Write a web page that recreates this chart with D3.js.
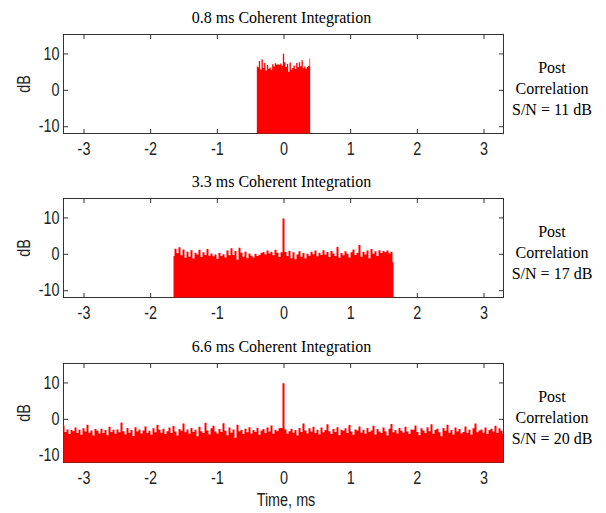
<!DOCTYPE html>
<html>
<head>
<meta charset="utf-8">
<script src="https://cdn.jsdelivr.net/npm/d3@7"></script>
<style>
body { margin: 0; background: #fff; }
.sans { font-family: "Liberation Sans", Arial, sans-serif; font-size: 18px; fill: #222; }
.serif { font-family: "Liberation Serif", "Times New Roman", serif; font-size: 16px; fill: #000; }
</style>
</head>
<body>
<svg id="chart" width="606" height="513"></svg>
<script>
// chart text
const titles = ["0.8 ms Coherent Integration", "3.3 ms Coherent Integration", "6.6 ms Coherent Integration"];
const snLabels = ["S/N = 11 dB", "S/N = 17 dB", "S/N = 20 dB"];
const xTicks = [-3, -2, -1, 0, 1, 2, 3];
const yTicks = [-10, 0, 10];
const xDomain = [-3.3, 3.3];
const yDomain = [-12, 15.2];

// sample grids (ms): first sample time and spacing
const start1 = -0.40, step1 = 0.02;
const start2 = -1.65, step2 = 0.03;
const start3 = -3.30, step3 = 0.03;

// dB values
const values1 = [6.6, 6.2, 7.9, 5.6, 8.3, 6.0, 7.4, 5.3, 6.8, 5.8,
	6.1, 5.4, 7.0, 6.4, 7.3, 6.9, 7.0, 6.8, 7.2, 6.6,
	9.9, 7.6, 6.3, 7.1, 5.0, 7.5, 5.5, 6.0, 6.7, 5.7,
	7.4, 6.2, 7.6, 6.5, 8.1, 5.9, 6.4, 5.8, 6.3, 6.6, 8.6];

const values2 = [-0.6, 1.4, 0.2, 1.8, -0.4, 1.2, -1.1, 0.6, -0.8, 1.0,
	-1.3, 0.3, -0.2, 1.1, -0.9, 0.4, -0.3, 1.3, -0.5, 0.1,
	-0.7, -0.2, -1.4, 0.2, -0.6, -0.1, -1.0, 0.9, -0.4, 1.5,
	-0.3, 0.8, -1.6, 1.7, 0.3, -0.8, 0.6, -1.2, 0.1, -0.5,
	-1.0, 0.0, -0.6, -0.3, 0.2, 0.5, -0.2, 0.9, 0.1, 0.6,
	-0.4, 1.1, 0.3, -0.9, 0.4, 9.7, 0.5, -0.6, 0.8, -1.2,
	0.4, -1.5, -0.2, 0.7, -0.8, 0.2, -1.3, 0.0, -0.5, 0.6,
	-0.1, 0.9, -0.7, 0.3, -0.3, 1.0, -0.2, 0.5, -0.9, 0.8,
	0.1, -0.6, 1.9, -1.1, 0.2, -0.4, 0.7, 0.0, -1.0, 0.4,
	1.2, -0.3, 0.3, 2.4, -0.8, 0.6, -0.2, 0.9, -1.2, 1.3,
	0.0, 0.7, -0.6, 1.0, 0.2, 0.8, 0.4, 0.9, 0.1, 0.6, -2.3];

const values3 = [-1.8, -3.6, -2.9, -4.2, -3.1, -3.4, -2.4, -3.9, -3.0, -4.4,
	-2.6, -3.5, -1.6, -3.8, -3.2, -4.6, -2.8, -3.3, -4.0, -2.7,
	-3.9, -3.1, -4.5, -2.2, -3.6, -3.0, -4.1, -2.9, -3.7, -1.0,
	-3.4, -4.3, -2.5, -3.8, -3.1, -4.7, -2.3, -3.5, -2.9, -4.0,
	-3.2, -2.1, -3.9, -3.3, -4.4, -2.6, -3.7, -1.7, -3.0, -3.8,
	-2.7, -4.2, -3.4, -2.4, -3.9, -2.0, -3.5, -4.6, -2.8, -3.3,
	-1.3, -3.7, -2.9, -4.1, -2.5, -3.6, -3.0, -4.8, -2.2, -3.4,
	-3.9, -1.1, -3.2, -4.3, -2.6, -1.9, -3.5, -4.0, -2.8, -3.6,
	-1.2, -3.3, -4.5, -2.4, -3.8, -2.9, -5.2, -1.6, -3.4, -3.0,
	-4.2, -2.7, -3.7, -2.3, -4.0, -3.1, -3.6, -2.5, -4.4, -3.2,
	-2.8, -3.9, -2.4, -3.5, -1.8, -4.1, -3.0, -3.4, -2.6, -2.5,
	9.8, -2.9, -4.1, -3.4, -2.7, -3.8, -3.1, -4.6, -2.5, -3.6,
	-1.3, -3.2, -4.0, -2.6, -3.5, -2.2, -3.9, -3.0, -4.3, -2.4,
	-3.7, -3.1, -1.5, -3.4, -4.2, -2.8, -3.6, -2.3, -4.5, -3.0,
	-3.3, -2.6, -3.9, -1.7, -3.5, -4.4, -2.9, -3.2, -2.1, -3.8,
	-3.0, -4.1, -2.5, -3.6, -3.2, -1.9, -4.3, -2.8, -3.5, -3.9,
	-2.4, -3.4, -4.6, -2.7, -1.4, -3.7, -3.1, -4.0, -2.5, -3.3,
	-3.8, -2.2, -3.5, -4.2, -2.9, -3.0, -1.8, -3.6, -4.5, -2.6,
	-3.2, -3.9, -2.3, -3.4, -1.5, -4.1, -3.0, -2.7, -3.7, -4.8,
	-2.5, -3.3, -1.6, -3.8, -3.1, -4.3, -2.4, -3.5, -2.8, -4.0,
	-3.6, -2.1, -3.9, -3.0, -4.4, -2.6, -1.3, -3.7, -3.2, -2.9,
	-3.8, -2.4, -4.2, -3.1, -2.7, -3.5, -1.9, -3.9, -2.6, -3.3, -4.1];

const series = [
	{ start: start1, step: step1, values: values1 },
	{ start: start2, step: step2, values: values2 },
	{ start: start3, step: step3, values: values3 }
];

const svg = d3.select("#chart");

const plotLeft = 63.5;
const plotRight = 503.5;
const plotHeight = 99;
const panelTops = [34.5, 198.5, 363.5];
const tickLen = 4.5;

// squeeze sans text to look like the narrow face of the original
function narrow(sel) {
	sel.each(function() {
		const w = this.getComputedTextLength();
		d3.select(this).attr("textLength", w * 0.8).attr("lengthAdjust", "spacingAndGlyphs");
	});
}

const xScale = d3.scaleLinear().domain(xDomain).range([plotLeft, plotRight]);

series.forEach((s, i) => {
	const top = panelTops[i];
	const bottom = top + plotHeight;
	const yScale = d3.scaleLinear().domain(yDomain).range([bottom, top]);

	const panelG = svg.append("g").attr("class", "panel");

	// box
	panelG.append("rect")
		.attr("x", plotLeft)
		.attr("y", top)
		.attr("width", plotRight - plotLeft)
		.attr("height", plotHeight)
		.attr("fill", "none")
		.attr("stroke", "#333")
		.attr("stroke-width", 1);

	// axes, ticks pointing inward on all four sides
	panelG.append("g")
		.attr("transform", `translate(0, ${bottom})`)
		.call(d3.axisBottom(xScale).tickValues(xTicks).tickSizeInner(-tickLen).tickSizeOuter(0).tickPadding(4).tickFormat(d => String(d)))
		.call(g => g.select(".domain").remove())
		.call(g => g.selectAll("line").attr("stroke", "#333"))
		.call(g => g.selectAll("text").attr("class", "sans").attr("font-family", null).attr("font-size", null).attr("fill", null).attr("dy", "0.95em"));

	panelG.append("g")
		.attr("transform", `translate(0, ${top})`)
		.call(d3.axisTop(xScale).tickValues(xTicks).tickSizeInner(-tickLen).tickSizeOuter(0).tickFormat(""))
		.call(g => g.select(".domain").remove())
		.call(g => g.selectAll("line").attr("stroke", "#333"));

	panelG.append("g")
		.attr("transform", `translate(${plotLeft}, 0)`)
		.call(d3.axisLeft(yScale).tickValues(yTicks).tickSizeInner(-tickLen).tickSizeOuter(0).tickPadding(4).tickFormat(d => String(d)))
		.call(g => g.select(".domain").remove())
		.call(g => g.selectAll("line").attr("stroke", "#333"))
		.call(g => g.selectAll("text").attr("class", "sans").attr("font-family", null).attr("font-size", null).attr("fill", null));

	panelG.append("g")
		.attr("transform", `translate(${plotRight}, 0)`)
		.call(d3.axisRight(yScale).tickValues(yTicks).tickSizeInner(-tickLen).tickSizeOuter(0).tickFormat(""))
		.call(g => g.select(".domain").remove())
		.call(g => g.selectAll("line").attr("stroke", "#333"));

	// red correlation trace, one column per sample
	const area = d3.area()
		.x((d, j) => xScale(s.start + j * s.step))
		.y0(bottom)
		.y1(d => yScale(d))
		.curve(d3.curveStep);

	panelG.append("path")
		.datum(s.values)
		.attr("d", area)
		.attr("fill", "#ff0000")
		.attr("stroke", "none");

	// title
	panelG.append("text")
		.attr("class", "serif")
		.attr("x", (plotLeft + plotRight) / 2 - 2)
		.attr("y", top - 11.5)
		.attr("text-anchor", "middle")
		.text(titles[i]);

	// y label
	panelG.append("text")
		.attr("class", "sans")
		.attr("transform", `translate(24, ${top + plotHeight / 2}) rotate(-90)`)
		.attr("text-anchor", "middle")
		.attr("dy", "0.35em")
		.text("dB");

	// side note
	const note = panelG.append("text")
		.attr("class", "serif")
		.attr("text-anchor", "middle");
	["Post", "Correlation", snLabels[i]].forEach((line, k) => {
		note.append("tspan")
			.attr("x", 552)
			.attr("y", top + 38 + k * 21)
			.text(line);
	});
});

// x label
svg.append("text")
	.attr("class", "sans")
	.attr("x", 286)
	.attr("y", 506)
	.attr("text-anchor", "middle")
	.text("Time, ms");

svg.selectAll("text.sans").call(narrow);
</script>
</body>
</html>
